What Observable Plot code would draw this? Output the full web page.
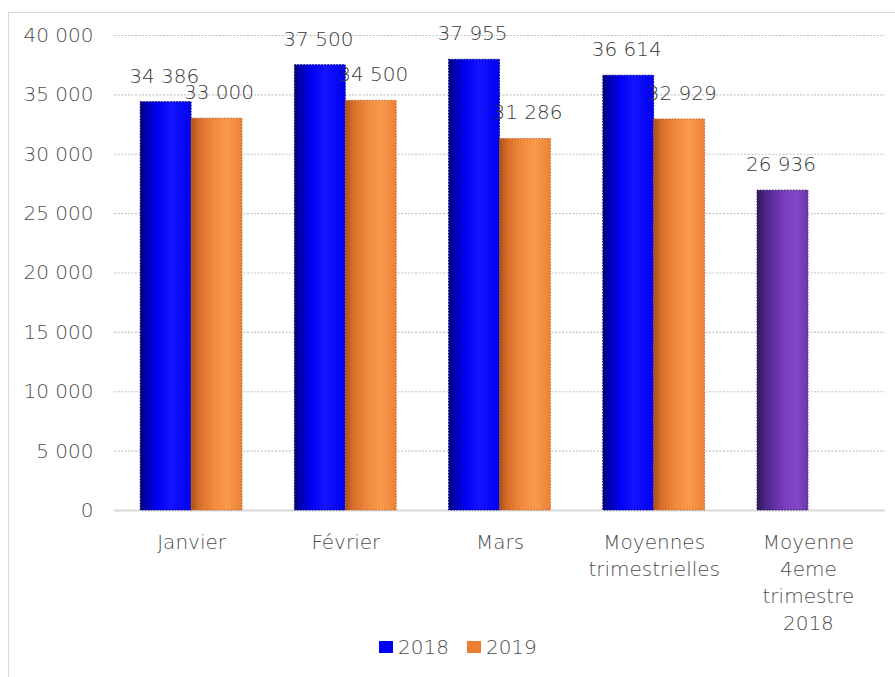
<!DOCTYPE html>
<html>
<head>
<meta charset="utf-8">
<script src="https://cdn.jsdelivr.net/npm/d3@7"></script>
<script src="https://cdn.jsdelivr.net/npm/@observablehq/plot@0.6"></script>
<style>
  html, body { margin: 0; padding: 0; background: #fff; }
  body { font-family: "DejaVu Sans", sans-serif; font-weight: 300; width: 895px; height: 677px; overflow: hidden; position: relative; }
  #frame { position: absolute; left: 8px; top: 12px; width: 1000px; height: 900px;
           border-left: 1.5px solid #d9d9d9; border-top: 1.5px solid #d9d9d9; pointer-events: none; }
  #chart { position: absolute; left: 0; top: 0; }
  #legend { position: absolute; left: 379px; top: 634px; display: flex; align-items: center;
            font-size: 20px; color: #4d4d4d; line-height: 26px; }
  .sw { display: inline-block; width: 14px; height: 12px; margin-right: 5px; }
  .item { display: flex; align-items: center; margin-right: 18px; }
  svg text { font-weight: 300; }
</style>
</head>
<body>
<svg width="0" height="0" style="position:absolute">
  <defs>
    <linearGradient id="gBlue" x1="0" x2="1" y1="0" y2="0">
      <stop offset="0" stop-color="#000070"/>
      <stop offset="0.12" stop-color="#0000b0"/>
      <stop offset="0.35" stop-color="#0000f5"/>
      <stop offset="0.6" stop-color="#1414ff"/>
      <stop offset="1" stop-color="#0000f0"/>
    </linearGradient>
    <linearGradient id="gOrange" x1="0" x2="1" y1="0" y2="0">
      <stop offset="0" stop-color="#a8501a"/>
      <stop offset="0.15" stop-color="#d66e2a"/>
      <stop offset="0.45" stop-color="#f28b3e"/>
      <stop offset="0.7" stop-color="#f99a4c"/>
      <stop offset="1" stop-color="#ec8236"/>
    </linearGradient>
    <linearGradient id="gPurple" x1="0" x2="1" y1="0" y2="0">
      <stop offset="0" stop-color="#2e1a58"/>
      <stop offset="0.2" stop-color="#50288c"/>
      <stop offset="0.55" stop-color="#7a3fc0"/>
      <stop offset="0.8" stop-color="#8446c8"/>
      <stop offset="1" stop-color="#6c36aa"/>
    </linearGradient>
  </defs>
</svg>
<div id="frame"></div>
<div id="chart"></div>
<div id="legend">
  <div class="item"><span class="sw" style="background:#0000ff"></span>2018</div>
  <div class="item"><span class="sw" style="background:#ed7d31"></span>2019</div>
</div>
<script>
// ---- data ----
const categories = ["Janvier", "Février", "Mars", "Moyennes trimestrielles", "Moyenne 4eme trimestre 2018"];
const categoryLabels = ["Janvier", "Février", "Mars", "Moyennes\ntrimestrielles", "Moyenne\n4eme\ntrimestre\n2018"];
const series = ["2018", "2019"];
const values2018 = [34386, 37500, 37955, 36614, 26936];
const values2019 = [33000, 34500, 31286, 32929, null];
const highlightCategory = "Moyenne 4eme trimestre 2018";
const yTicks = [0, 5000, 10000, 15000, 20000, 25000, 30000, 35000, 40000];

// ---- build table ----
const rows = [];
categories.forEach((c, i) => {
  if (values2018[i] != null) rows.push({cat: c, series: "2018", value: values2018[i]});
  if (values2019[i] != null) rows.push({cat: c, series: "2019", value: values2019[i]});
});
const labelOf = new Map(categories.map((c, i) => [c, categoryLabels[i]]));

const fmt = d3.formatLocale({decimal: ",", thousands: "\u00a0", grouping: [3], currency: ["", "€"]}).format(",d");

// ---- layout ----
const W = 895, H = 635, ML = 114, MR = 10, MT = 35, MB = 125;
const PI = 0.34, PO = 0.17;
const band = d3.scaleBand(categories, [ML, W - MR]).paddingInner(PI).paddingOuter(PO);
const half = band.bandwidth() / 2;

const r2018 = rows.filter(d => d.series === "2018" && d.cat !== highlightCategory);
const rHi = rows.filter(d => d.series === "2018" && d.cat === highlightCategory);
const r2019 = rows.filter(d => d.series === "2019");

const textColor = "#4d4d4d";
const FS = 20;

const chart = Plot.plot({
  width: W, height: H,
  marginLeft: ML, marginRight: MR, marginTop: MT, marginBottom: MB,
  style: {fontFamily: "'DejaVu Sans', sans-serif", color: textColor, background: "transparent"},
  x: {domain: categories, paddingInner: PI, paddingOuter: PO, round: false, label: null},
  y: {domain: [0, 40000], label: null},
  marks: [
    Plot.gridY(yTicks.filter(v => v > 0), {stroke: "#c4c4c4", strokeOpacity: 1, strokeDasharray: "2,1.5", strokeWidth: 1.2}),
    Plot.ruleY([0], {stroke: "#d9d9d9", strokeWidth: 2}),
    Plot.barY(r2018, {x: "cat", y: "value", insetRight: half, fill: "url(#gBlue)", stroke: "#000080", strokeWidth: 1, strokeDasharray: "1.5,1.5"}),
    Plot.barY(rHi, {x: "cat", y: "value", insetRight: half, fill: "url(#gPurple)", stroke: "#2e1a58", strokeWidth: 1, strokeDasharray: "1.5,1.5"}),
    Plot.barY(r2019, {x: "cat", y: "value", insetLeft: half, fill: "url(#gOrange)", stroke: "#c0662a", strokeWidth: 1, strokeDasharray: "1.5,1.5"}),
    Plot.text(rows.filter(d => d.series === "2018"), {x: "cat", y: "value", text: d => fmt(d.value), dx: -half / 2 - 2, dy: -26, fontSize: FS, fill: "#3a3a3a"}),
    Plot.text(r2019, {x: "cat", y: "value", text: d => fmt(d.value), dx: half / 2 + 2, dy: -26, fontSize: FS, fill: "#3a3a3a"}),
    Plot.axisY({ticks: yTicks, tickSize: 0, tickPadding: 21, tickFormat: fmt, fontSize: FS, fill: textColor, label: null}),
    Plot.axisX({tickSize: 0, tickPadding: 19, tickFormat: c => labelOf.get(c), fontSize: FS, lineHeight: 1.36, fill: textColor, label: null})
  ]
});
document.getElementById("chart").appendChild(chart);
</script>
</body>
</html>
